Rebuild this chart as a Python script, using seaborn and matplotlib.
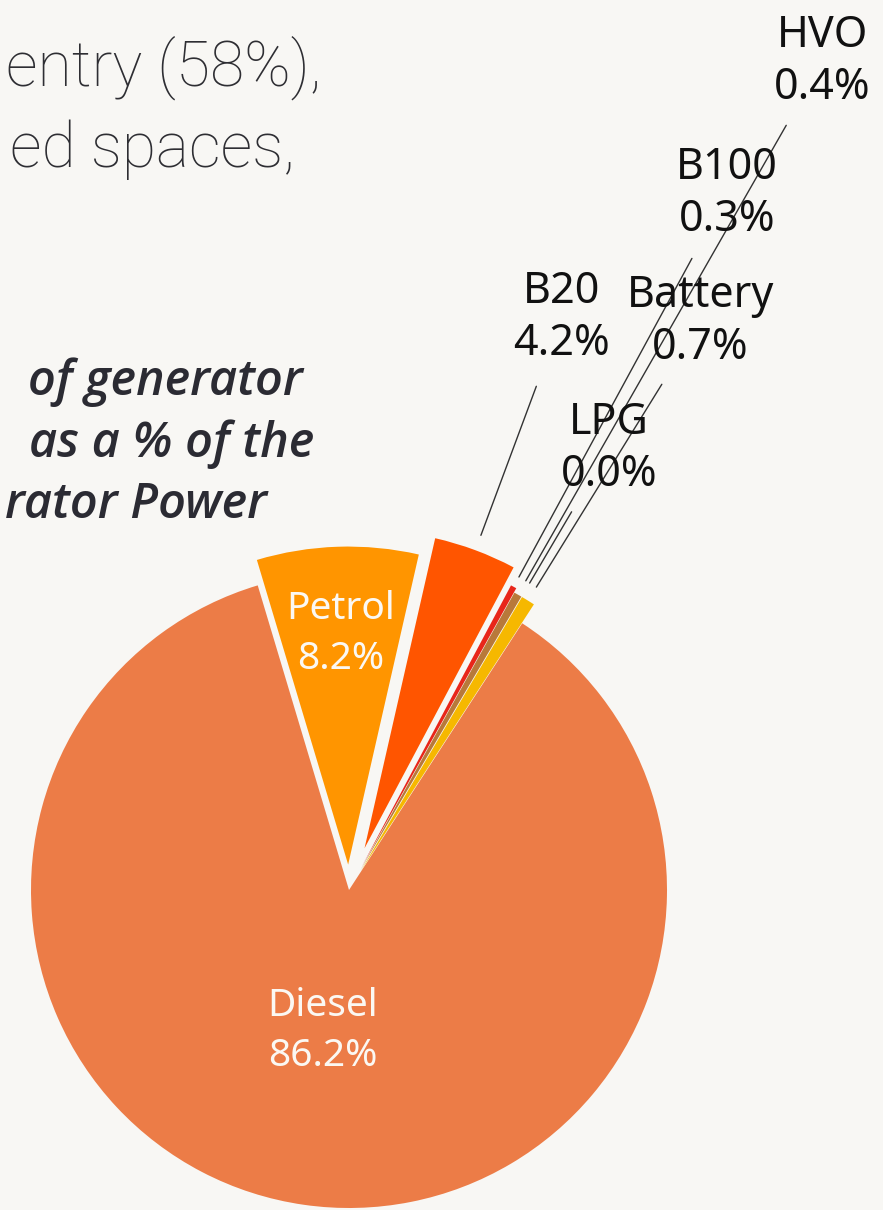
import numpy as np
import matplotlib.pyplot as plt
import seaborn as sns

# fuel share of generator power (%)
fuels = ["Diesel", "Petrol", "B20", "B100", "HVO", "LPG", "Battery"]
shares = [86.2, 8.2, 4.2, 0.3, 0.4, 0.0, 0.7]
fuel_colors = ["#EC7C47", "#FF9500", "#FF5500", "#E8261A", "#B8793A", "#D9A400", "#F6B800"]

intro_lines = ["entry (58%),", "ed spaces,"]
subtitle_lines = ["of generator", "as a % of the", "rator Power"]

bg = "#F8F7F4"
ink = "#2B2B33"

sns.set_theme(style="white")
plt.rcParams['font.family'] = ['Noto Sans', 'DejaVu Sans']

W, H = 883, 1210
fig = plt.figure(figsize=(W / 100, H / 100), dpi=100, facecolor=bg)
ax = fig.add_axes([0, 0, 1, 1])
ax.set_facecolor(bg)

explode = [0.0, 0.08, 0.14, 0.085, 0.07, 0.07, 0.07]
wedges, _ = ax.pie(shares, colors=fuel_colors, explode=explode, startangle=57,
                   counterclock=False, radius=1,
                   wedgeprops=dict(edgecolor=bg, linewidth=0))

# pie centre at pixel (349, 890), radius 318 px
R = 318
cx, cy = 349, 890
ax.set_xlim(-cx / R, (W - cx) / R)
ax.set_ylim(-(H - cy) / R, cy / R)
ax.set_aspect('auto')
ax.axis('off')

# labels inside the big slices
inside = {"Diesel": (0.45, 259.5), "Petrol": (0.805, None)}
# labels outside, distance from centre along the slice middle
outside = {"B20": 1.92, "B100": 2.49, "HVO": 3.0, "LPG": 1.61, "Battery": 2.10}

for w, name, val, ex in zip(wedges, fuels, shares, explode):
    mid = np.deg2rad((w.theta1 + w.theta2) / 2)
    text = f"{name}\n{val:.1f}%"
    if name in inside:
        r, ang = inside[name]
        a = mid if ang is None else np.deg2rad(ang)
        ax.text(r * np.cos(a), r * np.sin(a), text, ha='center', va='center',
                color="#FBF8F3", fontsize=28, linespacing=1.4)
    else:
        r = outside[name]
        r0 = 1.05 + min(ex, 0.07) if name != "B20" else 1.05 + ex
        r1 = r - 0.23
        ax.plot([r0 * np.cos(mid), r1 * np.cos(mid)],
                [r0 * np.sin(mid), r1 * np.sin(mid)],
                color="#333333", lw=1.0)
        ax.text(r * np.cos(mid), r * np.sin(mid), text, ha='center', va='center',
                color="#111111", fontsize=31, linespacing=1.25)

# text from the surrounding page (cut at the left edge)
for line, (xr, yb) in zip(intro_lines, [(322, 86), (295, 167)]):
    fig.text(xr / W, 1 - yb / H, line, ha='right', va='baseline', fontsize=45,
             color="#2E2E33", family=['Roboto', 'DejaVu Sans'], weight='light')

for line, (xr, yb) in zip(subtitle_lines, [(303, 395), (314, 457), (267, 518)]):
    fig.text(xr / W, 1 - yb / H, line, ha='right', va='baseline', fontsize=35,
             color=ink, family=['Open Sans', 'DejaVu Sans'], weight='semibold',
             style='italic')

fig.savefig("out.png", dpi=100, facecolor=bg)
